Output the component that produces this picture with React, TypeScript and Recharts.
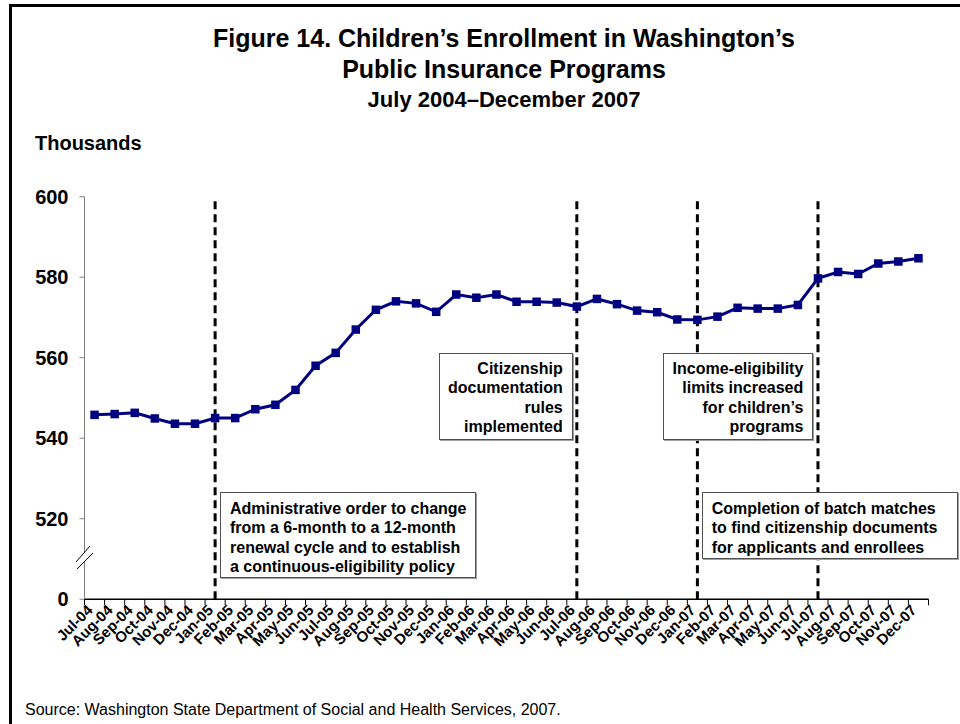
import React from "react";
import { LineChart, Line, XAxis, YAxis, ReferenceLine } from "recharts";

// monthly enrollment, thousands
const months = [
  "Jul-04", "Aug-04", "Sep-04", "Oct-04", "Nov-04", "Dec-04",
  "Jan-05", "Feb-05", "Mar-05", "Apr-05", "May-05", "Jun-05",
  "Jul-05", "Aug-05", "Sep-05", "Oct-05", "Nov-05", "Dec-05",
  "Jan-06", "Feb-06", "Mar-06", "Apr-06", "May-06", "Jun-06",
  "Jul-06", "Aug-06", "Sep-06", "Oct-06", "Nov-06", "Dec-06",
  "Jan-07", "Feb-07", "Mar-07", "Apr-07", "May-07", "Jun-07",
  "Jul-07", "Aug-07", "Sep-07", "Oct-07", "Nov-07", "Dec-07",
];
const enrollment = [
  545.8, 546.0, 546.3, 544.9, 543.6, 543.6,
  545.0, 545.0, 547.2, 548.3, 552.0, 558.0,
  561.2, 567.0, 571.9, 574.0, 573.5, 571.4,
  575.7, 574.9, 575.7, 573.9, 573.9, 573.7,
  572.7, 574.6, 573.3, 571.7, 571.3, 569.5,
  569.4, 570.2, 572.4, 572.2, 572.2, 573.1,
  579.7, 581.3, 580.8, 583.4, 583.9, 584.7,
];
const yTicks = [500, 520, 540, 560, 580, 600];
const eventMonths = ["Jan-05", "Jul-06", "Jan-07", "Jul-07"];

const data = months.map((m, i) => ({ month: m, enrollment: enrollment[i] }));

const FONT = "Arial, 'Liberation Sans', Helvetica, sans-serif";
const PLOT_LEFT = 84.5;
const PLOT_RIGHT = 928.5;
const BAND = (PLOT_RIGHT - PLOT_LEFT) / months.length;

const MonthTick = (props: any) => {
  const { x, y, payload, index } = props;
  const tx = x - 1;
  const ty = y + 12;
  return (
    <g>
      <line x1={x - BAND / 2} x2={x - BAND / 2} y1={y} y2={y + 6} stroke="#000" />
      {index === months.length - 1 && (
        <line x1={x + BAND / 2} x2={x + BAND / 2} y1={y} y2={y + 6} stroke="#000" />
      )}
      <text
        x={tx}
        y={ty}
        textAnchor="end"
        transform={`rotate(-45 ${tx} ${ty})`}
        fontSize={15}
        fontWeight="bold"
        fontFamily={FONT}
        fill="#000"
      >
        {payload.value}
      </text>
    </g>
  );
};

const squareDot = (props: any) => {
  const { cx, cy, index } = props;
  if (cx == null || cy == null) return <g key={`sq-${index}`} />;
  return <rect key={`sq-${index}`} x={cx - 4.25} y={cy - 4.25} width={8.5} height={8.5} fill="#000080" />;
};

const boxBase: React.CSSProperties = {
  position: "absolute",
  boxSizing: "border-box",
  background: "#fff",
  border: "1px solid #505050",
  boxShadow: "1px 1px 0 #a0a0a0",
  fontFamily: FONT,
  fontWeight: "bold",
  fontSize: 16,
  lineHeight: "19.3px",
  whiteSpace: "nowrap",
  color: "#000",
};

export default function App() {
  return (
    <div style={{ position: "absolute", left: 0, top: 0, width: 960, height: 724, background: "#fff", overflow: "hidden" }}>
      <div
        style={{
          position: "absolute",
          left: 9,
          top: 4,
          width: 1100,
          height: 900,
          borderLeft: "3px solid #000",
          borderTop: "3px solid #000",
        }}
      />
      <div style={{ position: "absolute", left: 0, top: 0 }}>
        <LineChart
          width={960}
          height={724}
          data={data}
          margin={{ top: 196.7, right: 960 - PLOT_RIGHT, bottom: 24.8, left: PLOT_LEFT - 70 }}
        >
          <XAxis
            dataKey="month"
            interval={0}
            height={100}
            padding={{ left: BAND / 2, right: BAND / 2 }}
            tickLine={false}
            tickSize={0}
            tickMargin={0}
            axisLine={{ stroke: "#000", strokeWidth: 1.5 }}
            tick={<MonthTick />}
          />
          <YAxis
            type="number"
            domain={[500, 600]}
            ticks={yTicks}
            allowDataOverflow
            width={70}
            tickSize={5}
            tickMargin={11}
            stroke="#808080"
            tickFormatter={(v: number) => (v === 500 ? "0" : String(v))}
            tick={{ fill: "#000", fontSize: 20, fontWeight: "bold", fontFamily: FONT }}
          />
          {eventMonths.map((m) => (
            <ReferenceLine key={m} x={m} stroke="#000" strokeWidth={3} strokeDasharray="8 5" />
          ))}
          <Line
            dataKey="enrollment"
            stroke="#000080"
            strokeWidth={3}
            dot={squareDot}
            activeDot={false}
            isAnimationActive={false}
          />
        </LineChart>
      </div>
      <svg width={960} height={724} style={{ position: "absolute", left: 0, top: 0, pointerEvents: "none" }}>
        <g fontFamily={FONT} fontWeight="bold" fill="#000" textAnchor="middle">
          <text x={504} y={46.7} fontSize={25}>Figure 14. Children’s Enrollment in Washington’s</text>
          <text x={504} y={78.3} fontSize={25}>Public Insurance Programs</text>
          <text x={504} y={107.3} fontSize={22}>July 2004–December 2007</text>
        </g>
        <text x={35} y={150} fontFamily={FONT} fontWeight="bold" fontSize={20} fill="#000">
          Thousands
        </text>
        <text x={25} y={715} fontFamily={FONT} fontSize={16} fill="#000">
          Source: Washington State Department of Social and Health Services, 2007.
        </text>
        <polygon points="76,562 90,546 93,553 77,569" fill="#fff" />
        <line x1={76} y1={562} x2={90} y2={546} stroke="#000" strokeWidth={1} />
        <line x1={77} y1={569} x2={93} y2={553} stroke="#000" strokeWidth={1} />
      </svg>
      <div style={{ ...boxBase, left: 220, top: 491.7, width: 256, height: 86.6, padding: "6.3px 0 0 9px", textAlign: "left" }}>
        Administrative order to change
        <br />
        from a 6-month to a 12-month
        <br />
        renewal cycle and to establish
        <br />
        a continuous-eligibility policy
      </div>
      <div style={{ ...boxBase, left: 701.7, top: 491.7, width: 256.6, height: 67.6, padding: "6.3px 0 0 9px", textAlign: "left" }}>
        Completion of batch matches
        <br />
        to find citizenship documents
        <br />
        for applicants and enrollees
      </div>
      <div style={{ ...boxBase, left: 439, top: 352.7, width: 134.3, height: 87.3, padding: "5.3px 9.6px 0 0", textAlign: "right" }}>
        Citizenship
        <br />
        documentation
        <br />
        rules
        <br />
        implemented
      </div>
      <div style={{ ...boxBase, left: 663.3, top: 352.7, width: 150, height: 87.3, padding: "5.3px 9px 0 0", textAlign: "right" }}>
        Income-eligibility
        <br />
        limits increased
        <br />
        for children’s
        <br />
        programs
      </div>
    </div>
  );
}
